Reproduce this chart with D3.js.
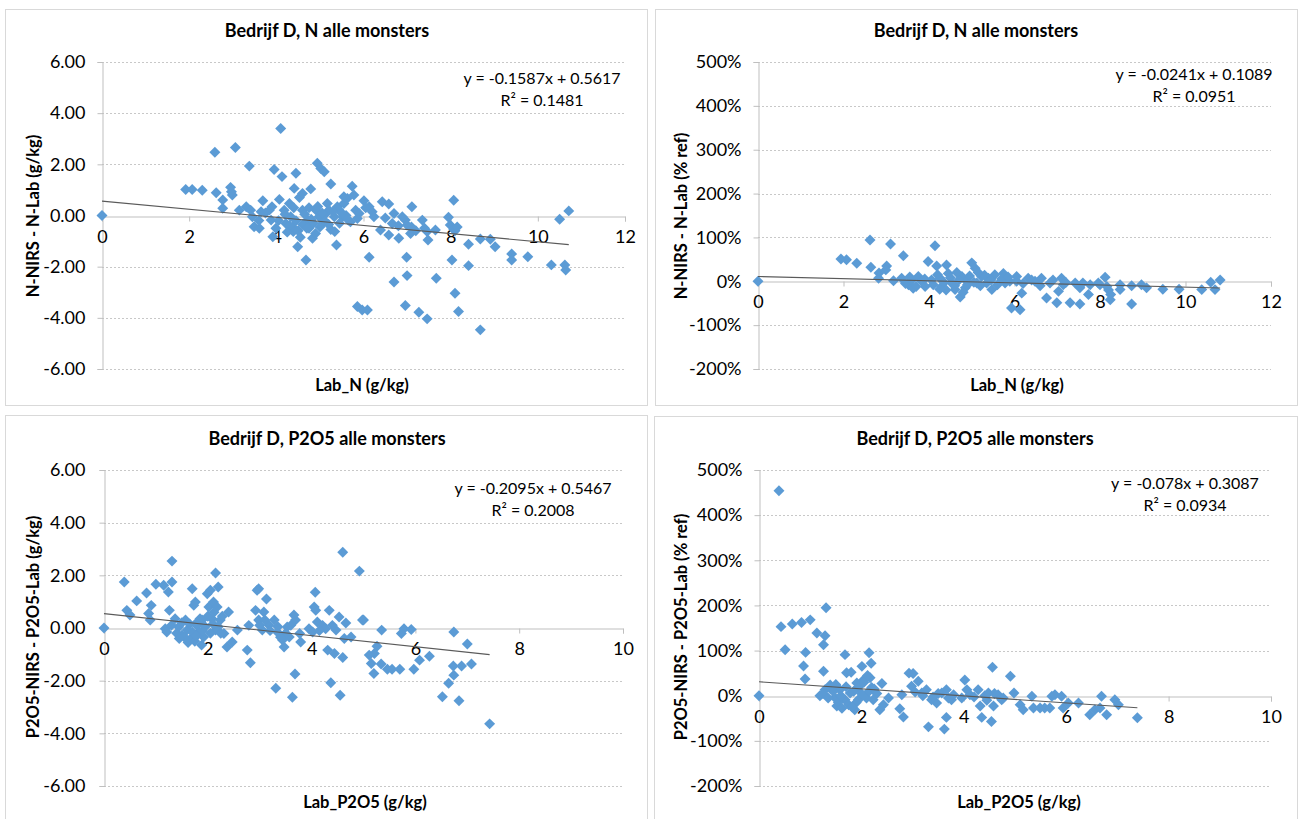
<!DOCTYPE html>
<html><head><meta charset="utf-8">
<script src="https://cdn.jsdelivr.net/npm/d3@7"></script>
<style>
body{margin:0;background:#fff;}
text{font-family:Lato,"Open Sans",sans-serif;fill:#000;}
</style></head>
<body><svg id="c" width="1298" height="819"></svg>
<script>
// ---------- DATA ----------
const titles = ["Bedrijf D, N alle monsters","Bedrijf D, N alle monsters","Bedrijf D, P2O5 alle monsters","Bedrijf D, P2O5 alle monsters"];
const xTitles = ["Lab_N (g/kg)","Lab_N (g/kg)","Lab_P2O5 (g/kg)","Lab_P2O5 (g/kg)"];
const yTitles = ["N-NIRS - N-Lab (g/kg)","N-NIRS - N-Lab (% ref)","P2O5-NIRS - P2O5-Lab (g/kg)","P2O5-NIRS - P2O5-Lab (% ref)"];
const equations = ["y = -0.1587x + 0.5617","y = -0.0241x + 0.1089","y = -0.2095x + 0.5467","y = -0.078x + 0.3087"];
const r2Labels = ["R² = 0.1481","R² = 0.0951","R² = 0.2008","R² = 0.0934"];
const slopes = [-0.1587,-0.0241,-0.2095,-0.078];
const intercepts = [0.5617,0.1089,0.5467,0.3087];
const xTicksN = [0,2,4,6,8,10,12];
const xTicksP = [0,2,4,6,8,10];
const yTicksAbs = [6,4,2,0,-2,-4,-6];
const yTicksPct = [500,400,300,200,100,0,-100,-200];

// N, absolute difference (g/kg)
const nAbs = [[0,0],[1.92,1.02],[2.07,1.02],[2.30,0.99],[2.59,2.47],[2.62,0.89],[2.77,0.61],[2.77,0.28],[2.95,1.10],[2.99,0.80],[2.97,0.93],[3.06,2.66],[3.15,0.21],[3.38,1.93],[3.31,0.34],[3.41,0.21],[3.45,-0.05],[3.49,-0.44],[3.61,-0.50],[3.65,0.15],[3.69,0.58],[3.84,0.21],[3.88,-0.18],[3.90,0.34],[3.92,-0.83],[3.95,1.80],[4.07,0.63],[3.99,-0.50],[4.10,3.40],[4.13,1.52],[4.18,0.21],[4.22,-0.31],[4.30,0.47],[4.33,-0.05],[4.37,-0.44],[4.45,1.65],[4.41,1.06],[4.39,-0.63],[4.49,-1.22],[4.53,0.70],[4.60,0.21],[4.60,0.86],[4.68,-1.74],[4.72,-0.18],[4.79,1.04],[4.75,-0.50],[4.83,-0.89],[4.94,2.04],[5.02,1.84],[5.10,1.71],[4.91,0.21],[4.98,-0.05],[5.06,-0.31],[5.17,0.47],[5.21,0.21],[5.25,1.23],[5.33,-0.05],[5.34,-0.63],[5.38,-1.15],[5.40,0.34],[5.52,-0.05],[5.55,0.47],[5.63,0.67],[5.65,-0.18],[5.74,1.14],[5.78,0.80],[5.82,0.21],[5.86,-0.12],[5.55,0.73],[5.44,0.21],[6.01,0.58],[6.13,0.34],[6.20,0.15],[6.24,-0.05],[5.90,0.08],[6.39,-0.57],[6.13,-1.63],[6.43,0.54],[6.58,0.45],[6.66,-0.31],[6.70,0.08],[6.58,-0.76],[6.81,-0.89],[6.89,-0.05],[6.96,-0.18],[7.00,-0.37],[7.11,0.34],[7.08,-0.70],[6.99,-1.63],[7.00,-2.35],[6.70,-2.60],[5.86,-3.56],[5.97,-3.69],[6.09,-3.69],[6.96,-3.52],[7.27,-3.78],[7.46,-4.04],[7.35,-0.18],[7.46,-0.63],[7.48,-0.96],[7.65,-0.57],[7.67,-2.45],[7.95,-0.07],[7.99,-0.37],[8.07,0.60],[8.07,-0.54],[8.03,-1.74],[8.10,-3.04],[8.18,-3.75],[8.41,-1.12],[8.41,-1.96],[8.68,-0.92],[8.68,-4.47],[8.91,-0.93],[9.02,-1.22],[9.40,-1.50],[9.40,-1.74],[9.77,-1.61],[10.31,-1.93],[10.50,-0.15],[10.62,-1.93],[10.64,-2.13],[10.71,0.18],
[4.30,-0.40],[4.45,-0.20],[4.50,-0.60],[4.60,-0.35],[4.70,-0.50],[4.85,-0.30],[4.90,-0.70],[5.00,-0.45],[5.10,-0.20],[5.15,0.10],[5.30,0.15],[5.45,-0.30],[5.60,0.00],[5.70,-0.25],[4.20,0.05],[4.05,-0.20],[3.75,0.10],[3.60,-0.20],[4.65,0.05],[4.95,0.35],[5.25,-0.55],[6.05,0.30],[6.50,-0.10],[6.80,-0.40],[7.20,-0.60],[7.40,-0.50],[7.10,-0.45],[8.10,-0.60],[8.15,-0.45],[4.40,0.30],[4.55,-0.85],[4.80,-0.15],[5.05,0.10],[4.25,-0.65],[4.75,0.30],[5.20,-0.35],[5.50,0.10]];

// N, relative difference (% of reference)
const nPct = [[0,0],[1.94,51],[2.07,49],[2.31,41],[2.62,94],[2.64,32],[2.83,19],[2.82,7],[3.01,35],[2.99,26],[3.10,85],[3.17,1],[3.40,58],[3.36,7],[3.52,-8],[3.63,-16],[3.75,11],[3.83,0],[3.91,-12],[3.98,45],[4.14,81],[4.18,35],[4.06,3],[4.26,7],[4.30,-12],[4.41,37],[4.45,18],[4.53,-4],[4.61,-19],[4.73,-36],[4.77,11],[4.88,0],[5.00,42],[5.08,30],[5.12,-4],[5.23,11],[5.39,7],[5.47,-19],[5.54,15],[5.74,18],[5.78,-4],[5.93,-61],[6.05,0],[5.89,0],[6.05,11],[6.13,-65],[6.17,-27],[6.32,7],[6.48,0],[6.63,7],[6.75,-38],[6.83,-4],[6.99,-49],[7.03,-23],[7.10,7],[7.14,-8],[7.30,-49],[7.42,-4],[7.53,-52],[7.53,-15],[7.73,-30],[7.77,-8],[7.96,-4],[8.12,9],[8.16,-12],[8.24,-42],[8.47,-19],[8.47,-8],[8.74,-10],[8.74,-52],[8.97,-8],[9.09,-15],[9.47,-18],[9.85,-18],[10.38,-19],[10.59,-2],[10.69,-19],[10.81,3],
[3.45,-5],[3.60,3],[3.70,-12],[3.90,5],[4.10,-8],[4.20,15],[4.35,-3],[4.50,8],[4.60,-10],[4.70,3],[4.85,-15],[4.95,12],[5.05,-2],[5.20,-10],[5.30,14],[5.45,3],[5.60,-8],[5.70,5],[5.85,10],[6.20,-5],[6.40,3],[6.60,-10],[6.90,3],[7.20,-3],[7.60,-4],[8.00,-8],[8.20,-20],[8.25,-30],[4.40,-20],[4.65,20],[4.90,-8],[5.15,20],[5.35,-4],[4.25,-18],[3.55,10],[4.80,-25]];

// P2O5, absolute difference (g/kg)
const pAbs = [[0,0],[0.39,1.75],[0.44,0.67],[0.50,0.49],[0.63,1.03],[0.82,1.33],[0.86,0.55],[0.91,0.86],[0.89,0.30],[1.00,1.66],[1.15,1.62],[1.24,1.37],[1.31,2.54],[1.31,1.75],[1.26,0.67],[1.18,-0.03],[1.21,-0.15],[1.37,0.35],[1.44,0.04],[1.50,-0.27],[1.57,0.30],[1.60,-0.08],[1.66,-0.43],[1.70,1.49],[1.73,0.86],[1.76,0.99],[1.76,0.15],[1.82,-0.15],[1.88,-0.65],[1.89,0.30],[1.92,-0.34],[1.99,1.30],[2.02,0.80],[2.05,1.43],[2.08,0.35],[2.11,0.99],[2.15,2.09],[2.18,0.80],[2.15,-0.08],[2.20,1.56],[2.24,0.30],[2.31,-0.21],[2.37,-0.72],[2.40,0.61],[2.47,-0.53],[2.57,-0.08],[2.76,-0.84],[2.79,0.10],[2.82,-1.32],[2.92,0.67],[2.95,1.43],[2.98,1.49],[2.98,0.30],[3.05,-0.08],[3.08,0.61],[3.13,1.10],[3.18,0.10],[3.28,0.30],[3.31,-2.29],[3.34,-0.15],[3.44,-0.46],[3.47,-0.72],[3.53,0.04],[3.57,-0.34],[3.63,-2.63],[3.66,0.49],[3.68,-1.75],[3.69,0.30],[3.77,-0.21],[3.79,-0.53],[3.95,-0.03],[4.02,-0.15],[4.05,0.80],[4.07,1.36],[4.08,0.67],[4.11,0.23],[4.21,0.10],[4.27,-0.03],[4.31,-0.84],[4.34,0.67],[4.37,-2.08],[4.44,-0.97],[4.47,-0.08],[4.53,0.42],[4.55,-2.55],[4.60,2.88],[4.60,-1.12],[4.63,-0.40],[4.66,0.19],[4.76,-0.34],[4.92,2.16],[4.98,0.30],[5.00,0.30],[5.35,-0.08],[5.26,-0.69],[5.21,-0.97],[5.11,-1.03],[5.15,-1.35],[5.20,-1.73],[5.34,-1.37],[5.46,-1.57],[5.55,-1.57],[5.70,-1.57],[5.73,-0.21],[5.78,-0.03],[5.92,-0.06],[5.97,-1.57],[6.08,-1.22],[6.27,-1.07],[6.52,-2.61],[6.64,-2.10],[6.74,-0.15],[6.74,-1.79],[6.73,-1.44],[6.84,-2.76],[6.89,-1.44],[7.00,-0.61],[7.08,-1.37],[7.43,-3.64],
[1.30,0.10],[1.40,-0.20],[1.50,0.20],[1.55,-0.35],[1.65,0.15],[1.70,-0.15],[1.75,-0.50],[1.80,0.10],[1.85,0.35],[1.90,-0.10],[1.95,0.05],[2.00,0.45],[2.05,-0.20],[2.10,0.15],[2.20,0.05],[2.25,-0.20],[3.10,0.30],[3.20,-0.10],[3.35,0.05],[3.50,-0.20],[3.60,0.10],[4.15,-0.10],[4.40,0.10],[1.45,-0.40],[1.62,-0.55],[1.78,-0.30],[2.12,0.60],[2.28,0.45],[3.00,0.10],[3.40,-0.35]];

// P2O5, relative difference (% of reference)
const pPct = [[0,0],[0.39,454],[0.43,153],[0.51,102],[0.65,159],[0.83,162],[1.00,168],[0.87,66],[0.91,96],[0.90,37],[1.13,139],[1.29,133],[1.26,113],[1.31,195],[1.26,54],[1.19,0],[1.29,13],[1.39,24],[1.48,-4],[1.52,-23],[1.58,13],[1.68,91],[1.71,51],[1.80,52],[1.68,-9],[1.78,6],[1.87,-31],[1.91,28],[1.94,-9],[2.01,65],[2.04,35],[2.07,0],[2.15,95],[2.19,72],[2.17,40],[2.20,18],[2.23,-9],[2.40,27],[2.36,-31],[2.43,-20],[2.53,-5],[2.75,-29],[2.82,-47],[2.79,2],[2.93,50],[3.01,49],[2.98,21],[3.11,32],[3.18,6],[3.27,13],[3.31,-69],[3.37,-9],[3.47,-16],[3.57,6],[3.62,-74],[3.66,13],[3.66,-48],[3.76,-9],[3.80,2],[3.96,-5],[4.02,35],[4.06,13],[4.12,2],[4.28,13],[4.32,-23],[4.35,-48],[4.41,0],[4.48,6],[4.54,-57],[4.56,63],[4.58,-23],[4.67,2],[4.77,-5],[4.74,-9],[4.91,43],[4.98,6],[5.10,-20],[5.16,-31],[5.33,-1],[5.36,-27],[5.49,-27],[5.58,-27],[5.68,-27],[5.72,-1],[5.78,2],[5.91,-1],[5.94,-27],[6.04,-16],[6.24,-16],[6.46,-42],[6.56,-31],[6.69,-1],[6.66,-27],[6.79,-42],[6.95,-9],[7.02,-20],[7.39,-49],
[1.25,5],[1.35,-5],[1.45,10],[1.55,-15],[1.60,0],[1.70,20],[1.75,-20],[1.85,10],[1.90,-15],[1.95,20],[2.00,5],[2.05,30],[2.10,-5],[2.15,10],[2.25,15],[3.05,8],[3.20,0],[3.40,-3],[3.50,5],[3.70,-5],[4.20,-3],[4.45,-10],[4.60,5],[1.40,15],[1.62,-28],[1.82,-25],[2.12,45],[2.30,5],[1.50,25]];

// ---------- LAYOUT ----------
const panels = [
  {data:nAbs, xTicks:xTicksN, yTicks:yTicksAbs, pct:false, box:[5.5,9.5,642,396],
   plot:{l:102,r:625,t:62,b:369}, title:[327,37], xt:[362,391], yt:[33,216], eq:[542,78], yLab:17},
  {data:nPct, xTicks:xTicksN, yTicks:yTicksPct, pct:true, box:[655.5,9.5,642,396],
   plot:{l:758,r:1271,t:62,b:369}, title:[976,37], xt:[1017,391], yt:[681,216], eq:[1194,74], yLab:17},
  {data:pAbs, xTicks:xTicksP, yTicks:yTicksAbs, pct:false, box:[5.5,415.5,642,410],
   plot:{l:104,r:623,t:470,b:786}, title:[327,445], xt:[365,808], yt:[33,627], eq:[533,488], yLab:19},
  {data:pPct, xTicks:xTicksP, yTicks:yTicksPct, pct:true, box:[654.5,416.5,643,410],
   plot:{l:759,r:1271,t:470,b:786}, title:[975,445], xt:[1019,808], yt:[681,627], eq:[1185,483], yLab:17}
];

const svg = d3.select("#c");
const blue = "#5B9BD5";
const diamond = d3.symbol().type(d3.symbolSquare).size(60);

panels.forEach((p,i)=>{
  const g = svg.append("g");
  g.append("rect").attr("x",p.box[0]).attr("y",p.box[1]).attr("width",p.box[2]).attr("height",p.box[3])
    .attr("fill","#fff").attr("stroke","#d9d9d9").attr("stroke-width",1);

  const x = d3.scaleLinear().domain([d3.min(p.xTicks), d3.max(p.xTicks)]).range([p.plot.l,p.plot.r]);
  const y = d3.scaleLinear().domain([d3.min(p.yTicks), d3.max(p.yTicks)]).range([p.plot.b,p.plot.t]);

  // gridlines
  g.append("g").selectAll("line").data(p.yTicks.filter(v=>v!==0)).join("line")
    .attr("x1",p.plot.l).attr("x2",p.plot.r)
    .attr("y1",d=>Math.round(y(d))+0.5).attr("y2",d=>Math.round(y(d))+0.5)
    .attr("stroke","#c8c8c8").attr("stroke-dasharray","2,2");

  // y axis
  const fmt = p.pct ? (d=>d+"%") : (d=>d.toFixed(2));
  const yAx = g.append("g").attr("transform",`translate(${Math.round(p.plot.l)+0.5},0)`)
    .call(d3.axisLeft(y).tickValues(p.yTicks).tickFormat(fmt).tickSize(5).tickPadding(p.yLab-5));
  yAx.select(".domain").attr("stroke","#bfbfbf");
  yAx.selectAll(".tick line").attr("stroke","#bfbfbf");
  yAx.selectAll("text").style("font-size","18px").style("font-family","Lato").attr("fill","#000");

  // x axis at y = 0
  const xAx = g.append("g").attr("transform",`translate(0,${Math.round(y(0))+0.5})`)
    .call(d3.axisBottom(x).tickValues(p.xTicks).tickFormat(d=>String(d)).tickSize(5).tickPadding(9));
  xAx.select(".domain").attr("stroke","#bfbfbf");
  xAx.selectAll(".tick line").attr("stroke","#bfbfbf");
  xAx.selectAll("text").style("font-size","18px").style("font-family","Lato").attr("fill","#000");

  // points
  g.append("g").selectAll("path").data(p.data).join("path")
    .attr("d",diamond)
    .attr("transform",d=>`translate(${x(d[0])},${y(d[1])}) rotate(45)`)
    .attr("fill",blue);

  // trendline
  const xMax = d3.max(p.data,d=>d[0]);
  const scaleT = p.pct ? 100 : 1;
  const f = v => (slopes[i]*v + intercepts[i])*scaleT;
  g.append("line").attr("x1",x(0)).attr("y1",y(f(0))).attr("x2",x(xMax)).attr("y2",y(f(xMax)))
    .attr("stroke","#5a5a5a").attr("stroke-width",1.1);

  // texts
  g.append("text").attr("x",p.title[0]).attr("y",p.title[1]).attr("text-anchor","middle")
    .style("font-size","18px").style("font-weight","bold").text(titles[i]);
  g.append("text").attr("x",p.xt[0]).attr("y",p.xt[1]).attr("text-anchor","middle")
    .style("font-size","16.5px").style("font-weight","bold").text(xTitles[i]);
  g.append("text").attr("transform",`translate(${p.yt[0]},${p.yt[1]}) rotate(-90)`).attr("text-anchor","middle")
    .attr("dy","0.35em").style("font-size","16.5px").style("font-weight","bold").text(yTitles[i]);
  g.append("text").attr("x",p.eq[0]).attr("y",p.eq[1]).attr("text-anchor","middle").attr("dy","0.35em")
    .style("font-size","16px").text(equations[i]);
  g.append("text").attr("x",p.eq[0]).attr("y",p.eq[1]+22).attr("text-anchor","middle").attr("dy","0.35em")
    .style("font-size","16px").text(r2Labels[i]);
});
</script></body></html>
